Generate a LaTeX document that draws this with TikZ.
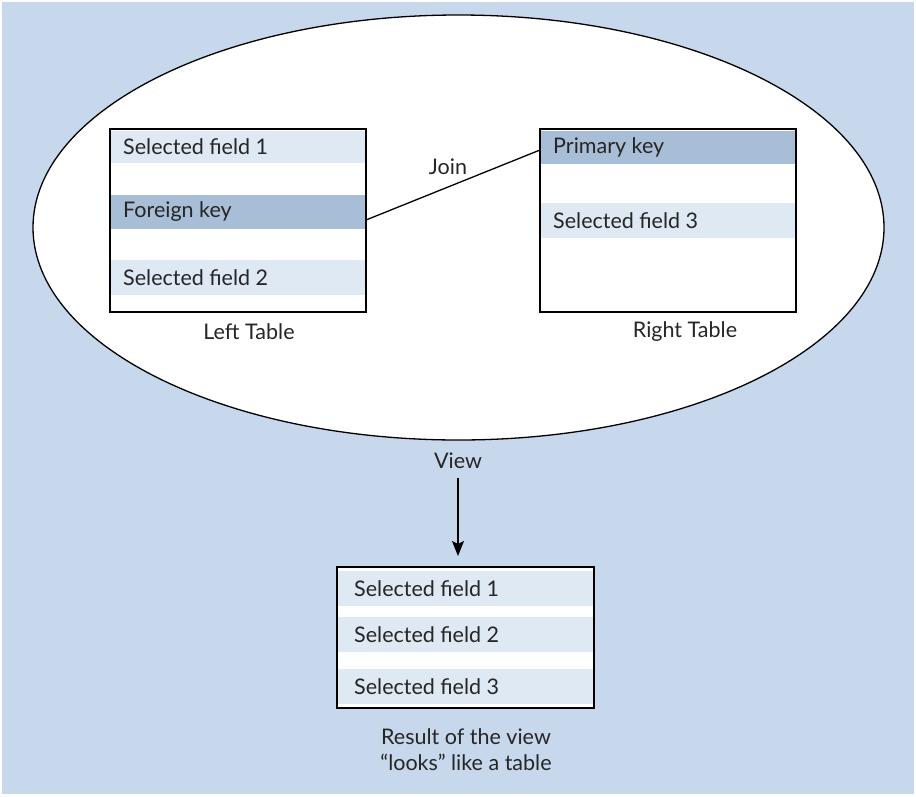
\documentclass[tikz,border=0pt]{standalone}
\usepackage{fontspec}
\setmainfont{Lato}
\usetikzlibrary{arrows.meta,shapes.geometric}
\definecolor{bgblue}{RGB}{200,216,236}
\definecolor{rowlight}{RGB}{222,233,243}
\definecolor{rowdark}{RGB}{168,189,214}
\begin{document}
\begin{tikzpicture}[x=1pt,y=-1pt,
  font=\fontsize{21.5}{26}\selectfont,
  tablebox/.style={draw=black,line width=1.6pt,fill=none},
  tablebg/.style={fill=white,draw=none},
  rowlt/.style={fill=rowlight,draw=none},
  rowdk/.style={fill=rowdark,draw=none},
  fieldtext/.style={anchor=west,inner sep=0pt,text=black!85},
  caption/.style={inner sep=0pt,text=black!85,align=center},
  link/.style={draw=black,line width=1.3pt}]
% canvas
\useasboundingbox (0,0) rectangle (916,796);
\fill[white] (0,0) rectangle (916,796);
\fill[bgblue] (2,2) rectangle (914,794);

% the view: an ellipse holding both source tables
\node[ellipse,draw=black,line width=1.3pt,fill=white,minimum width=851pt,minimum height=425pt,inner sep=0pt]
  (viewshape) at (458.5,227.5) {};

% left table
\fill[rowlt] (111,131) rectangle (365,163);
\fill[rowdk] (111,195) rectangle (365,229);
\fill[rowlt] (111,260) rectangle (365,295);
\draw[tablebox] (110,129) rectangle (366,312);
\coordinate (ltR) at (366,220);
\node[fieldtext] (lf1) at (123,147) {Selected field 1};
\node[fieldtext] (lfk) at (123,212) {Foreign key};
\node[fieldtext] (lf2) at (123,277.5) {Selected field 2};
\node[caption] (ltcap) at (249,332) {Left Table};

% right table
\fill[rowdk] (541,131) rectangle (795,164);
\fill[rowlt] (541,203) rectangle (795,238);
\draw[tablebox] (540,129) rectangle (796,312);
\coordinate (rtL) at (540,150);
\node[fieldtext] (rpk) at (553,147) {Primary key};
\node[fieldtext] (rf3) at (553,220.5) {Selected field 3};
\node[caption] (rtcap) at (685,332) {Right Table};

% join between foreign key and primary key
\draw[link] (ltR) -- (rtL);
\node[caption] (join) at (448,167) {Join};

% view label and arrow to the result
\node[caption] (viewlbl) at (458,461) {View};
\coordinate (arrtop) at (458,478);
\coordinate (arrtip) at (458,556);
\draw[link,-{Stealth[length=15pt,width=12pt,inset=3pt]}] (arrtop) -- (arrtip);

% result table
\fill[tablebg] (337,567) rectangle (594,708);
\fill[rowlt] (338,571) rectangle (593,606);
\fill[rowlt] (338,617) rectangle (593,652);
\fill[rowlt] (338,669) rectangle (593,704);
\draw[tablebox] (337,567) rectangle (594,708);
\node[fieldtext] (r1) at (354,588.5) {Selected field 1};
\node[fieldtext] (r2) at (354,634.5) {Selected field 2};
\node[fieldtext] (r3) at (354,686.5) {Selected field 3};
\node[caption] (rescap) at (466,749.5) {Result of the view\\“looks” like a table};
\end{tikzpicture}
\end{document}
